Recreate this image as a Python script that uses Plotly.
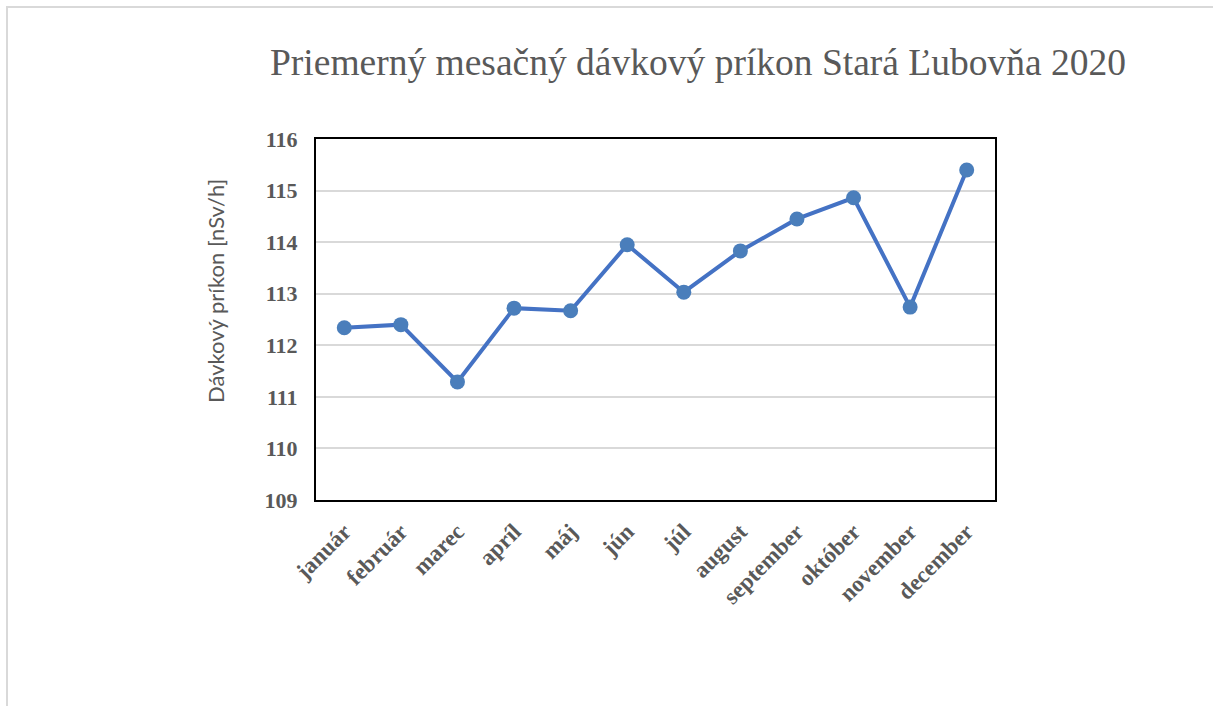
import plotly.graph_objects as go

months = ["január", "február", "marec", "apríl", "máj", "jún", "júl",
          "august", "september", "október", "november", "december"]
values = [112.34, 112.40, 111.29, 112.72, 112.67, 113.95, 113.03,
          113.83, 114.45, 114.86, 112.74, 115.40]
y_ticks = [109, 110, 111, 112, 113, 114, 115, 116]

title_text = "Priemerný mesačný dávkový príkon Stará Ľubovňa 2020"
y_title = "Dávkový príkon [nSv/h]"

GRAY = "#595959"

fig = go.Figure()
fig.add_trace(go.Scatter(
    x=list(range(len(months))), y=values, mode="lines+markers",
    line=dict(color="#4472C4", width=4),
    marker=dict(color="#4A7EBB", size=15),
    showlegend=False, hoverinfo="skip",
))

L, R, T, B = 316, 995, 139, 500
W, H = 1213, 706

fig.update_layout(
    width=W, height=H,
    margin=dict(l=L, r=W - R, t=T, b=H - B),
    paper_bgcolor="white", plot_bgcolor="white",
    title=dict(text=title_text, x=(698 - L) / (R - L), xref="paper", xanchor="center",
               y=1 - 62 / H, yref="container", yanchor="middle",
               font=dict(family="Liberation Serif", size=37.5, color=GRAY)),
    xaxis=dict(
        range=[-0.5, 11.5], tickmode="array",
        tickvals=list(range(len(months))), ticktext=months,
        tickangle=-45, showgrid=False, zeroline=False,
        showline=True, linecolor="black", linewidth=2, mirror=True,
        ticks="outside", ticklen=7, tickcolor="rgba(0,0,0,0)",
        tickfont=dict(family="Liberation Serif", size=23, color=GRAY, weight="bold"),
    ),
    yaxis=dict(
        range=[109, 116], tickmode="array", tickvals=y_ticks,
        showgrid=True, gridcolor="#d9d9d9", gridwidth=1.5, zeroline=False,
        showline=True, linecolor="black", linewidth=2, mirror=True,
        ticks="outside", ticklen=12, tickcolor="rgba(0,0,0,0)",
        tickfont=dict(family="Liberation Serif", size=22, color=GRAY, weight="bold"),
    ),
    annotations=[dict(
        text=y_title, textangle=-90, xref="paper", yref="paper",
        x=(215 - L) / (R - L), y=(B - 291) / (B - T),
        xanchor="center", yanchor="middle", showarrow=False,
        font=dict(family="Lato", size=22, color=GRAY),
    )],
    shapes=[dict(
        type="rect", xref="paper", yref="paper",
        x0=(7 - L) / (R - L), x1=(W + 5 - L) / (R - L),
        y0=(B - (H + 5)) / (B - T), y1=(B - 7) / (B - T),
        line=dict(color="#d9d9d9", width=2), fillcolor="rgba(0,0,0,0)",
        layer="below",
    )],
)

fig.write_html("out.html")
